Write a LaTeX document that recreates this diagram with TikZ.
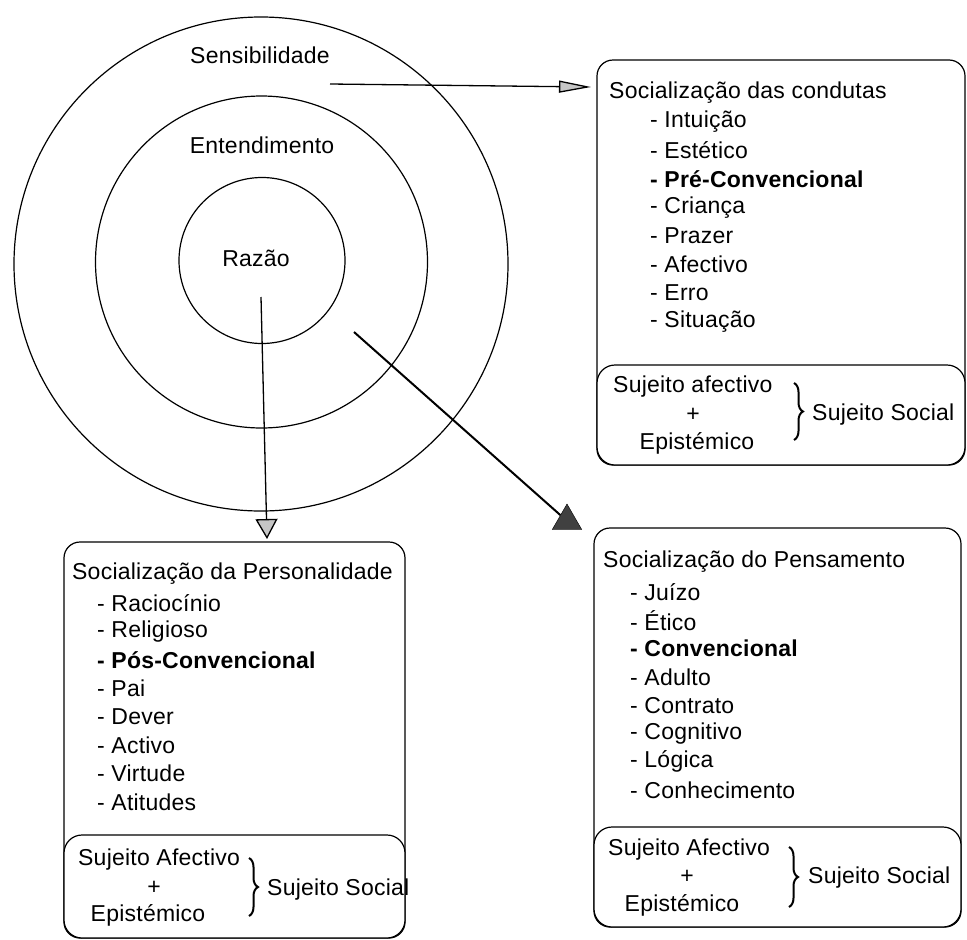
\documentclass[tikz,border=0pt]{standalone}
\usepackage{fontspec}
\setmainfont[LetterSpace=1]{Liberation Sans}
\usetikzlibrary{arrows.meta,shapes.geometric,decorations.pathreplacing}
\begin{document}
\begin{tikzpicture}[x=1pt,y=-1pt,
  txt/.style={font=\fontsize{23}{28}\selectfont,inner sep=0pt,anchor=west},
  ctxt/.style={font=\fontsize{23}{28}\selectfont,inner sep=0pt},
  ring/.style={circle,draw,line width=1.2pt,inner sep=0pt},
  outerbox/.style={draw,line width=1.2pt,rounded corners=16pt,inner sep=0pt},
  innerbox/.style={draw,fill=white,line width=1.2pt,rounded corners=18pt,inner sep=0pt},
  conn/.style={line width=1.3pt},
  brc/.style={decorate,decoration={brace,amplitude=9pt},line width=2pt}]
\useasboundingbox (0,0) rectangle (967,940);

% concentric circles
\node[ring,minimum size=494pt] (outer) at (261,264) {};
\node[ring,minimum size=332pt] (middle) at (261.5,262) {};
\node[ring,minimum size=166pt] (inner) at (262,260.5) {};
\node[ctxt] (sens) at (260,55) {Sensibilidade};
\node[ctxt] (ent) at (262,145) {Entendimento};
\node[ctxt] (raz) at (256,258) {Razão};

% top-right box
\node[outerbox,minimum width=368pt,minimum height=405pt] (trbox) at (781,262.5) {};
\node[innerbox,minimum width=368pt,minimum height=100pt] (trin) at (781,415) {};
\node[txt] (trtitle) at (609,93) {Socialização das condutas};
\foreach \t [count=\i] in {- Intuição,- Estético,{\bfseries - Pré-Convencional},- Criança,- Prazer,- Afectivo,- Erro,- Situação}
  \node[txt] (tr\i) at (650,{122+28.5*(\i-1)}) {\t};
\node[txt] (tra) at (613,387) {Sujeito afectivo};
\node[ctxt] (trp) at (693,415) {+};
\node[ctxt] (tre) at (697,443) {Epistémico};
\node[txt] (trs) at (812,415) {Sujeito Social};
\draw[brc] (794,383) -- (794,440);

% bottom-right box
\node[outerbox,minimum width=367pt,minimum height=399pt] (brbox) at (777.5,727.5) {};
\node[innerbox,minimum width=367pt,minimum height=100pt] (brin) at (777.5,877) {};
\node[txt] (brtitle) at (603,562) {Socialização do Pensamento};
\foreach \t [count=\i] in {- Juízo,- Ético,{\bfseries - Convencional},- Adulto,- Contrato,- Cognitivo,- Lógica,- Conhecimento}
  \node[txt] (br\i) at (630,{592+28.3*(\i-1)}) {\t};
\node[txt] (bra) at (608,850) {Sujeito Afectivo};
\node[ctxt] (brp) at (687,877) {+};
\node[ctxt] (bre) at (682,905) {Epistémico};
\node[txt] (brs) at (808,878) {Sujeito Social};
\draw[brc] (789,847) -- (789,907);

% bottom-left box
\node[outerbox,minimum width=341pt,minimum height=396pt] (blbox) at (234.5,740) {};
\node[innerbox,minimum width=341pt,minimum height=103pt] (blin) at (234.5,886.5) {};
\node[txt] (bltitle) at (72,574) {Socialização da Personalidade};
\foreach \t [count=\i] in {- Raciocínio,- Religioso,{\bfseries - Pós-Convencional},- Pai,- Dever,- Activo,- Virtude,- Atitudes}
  \node[txt] (bl\i) at (97,{603+28.4*(\i-1)}) {\t};
\node[txt] (bla) at (78,860) {Sujeito Afectivo};
\node[ctxt] (blp) at (154,888) {+};
\node[ctxt] (ble) at (148,915) {Epistémico};
\node[txt] (bls) at (267,890) {Sujeito Social};
\draw[brc] (249,858) -- (249,916);

% connectors
\coordinate (h0) at (330,84);
\coordinate (h1) at (591,87);
\draw[conn,-{Triangle[length=32pt,width=12pt,fill=gray!45]}] (h0) -- (h1);
\coordinate (v0) at (261,297);
\coordinate (v1) at (267,539);
\draw[conn,-{Triangle[length=20pt,width=22pt,fill=gray!45]}] (v0) -- (v1);
\coordinate (d0) at (354,332);
\node[regular polygon,regular polygon sides=3,minimum size=34pt,inner sep=0pt,draw,fill=black!75] (tri) at (567,521) {};
\draw[conn,line width=2pt] (d0) -- (tri);
\end{tikzpicture}
\end{document}
